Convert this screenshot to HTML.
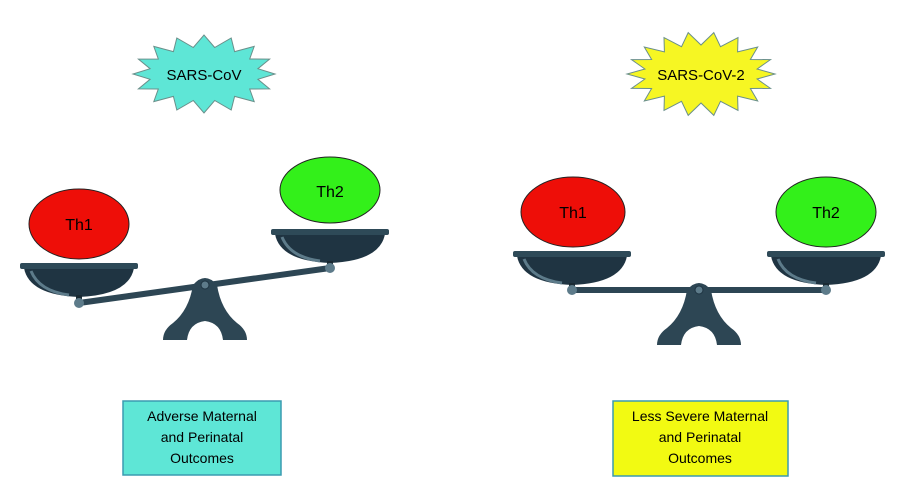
<!DOCTYPE html>
<html><head><style>body{margin:0;background:#fff}svg{display:block}</style></head><body>
<svg id="s" width="915" height="494" viewBox="0 0 915 494" xmlns="http://www.w3.org/2000/svg" font-family="Liberation Sans, sans-serif">
<defs>
<g id="pan">
<path d="M-55,3 Q-50,30 0,32 Q50,30 55,3 Z" fill="#1f3442"/>
<path d="M-48,6 Q-40,26 -10,30" stroke="#5d7b8a" stroke-width="3" fill="none"/>
<rect x="-59" y="-2" width="118" height="6" rx="2" fill="#2e4a58"/>
<rect x="-3" y="30" width="6" height="8" fill="#1a2a33"/>
</g>
<g id="ful">
<path d="M-12,0 Q0,-14 12,0 Q16,25 32,38 Q42,45 42,55 L18,55 Q16,38 0,36 Q-16,38 -18,55 L-42,55 Q-42,45 -32,38 Q-16,25 -12,0Z" fill="#2d4654"/>
</g>
</defs>
<g id="stars"></g>
<!-- left scale -->
<line x1="79" y1="303" x2="330" y2="268" stroke="#2d4654" stroke-width="6"/>
<use href="#ful" x="205" y="285"/>
<circle cx="205" cy="285" r="4" fill="#5d7b8a" stroke="#1f3442"/>
<use href="#pan" x="79" y="265"/>
<use href="#pan" x="330" y="231"/>
<circle cx="79" cy="303" r="5" fill="#5d7b8a"/>
<circle cx="330" cy="268" r="5" fill="#5d7b8a"/>
<ellipse cx="79" cy="224" rx="50" ry="35" fill="#ee0e08" stroke="#222"/>
<ellipse cx="330" cy="190" rx="50" ry="33" fill="#33f01a" stroke="#222"/>
<text x="79" y="230" font-size="16" text-anchor="middle">Th1</text>
<text x="330" y="197" font-size="16" text-anchor="middle">Th2</text>
<!-- right scale -->
<line x1="572" y1="290" x2="826" y2="290" stroke="#2d4654" stroke-width="6"/>
<use href="#ful" x="699" y="290"/>
<circle cx="699" cy="290" r="4" fill="#5d7b8a" stroke="#1f3442"/>
<use href="#pan" x="572" y="253"/>
<use href="#pan" x="826" y="253"/>
<circle cx="572" cy="290" r="5" fill="#5d7b8a"/>
<circle cx="826" cy="290" r="5" fill="#5d7b8a"/>
<ellipse cx="573" cy="212" rx="52" ry="35" fill="#ee0e08" stroke="#222"/>
<ellipse cx="826" cy="212" rx="50" ry="35" fill="#33f01a" stroke="#222"/>
<text x="573" y="218" font-size="16" text-anchor="middle">Th1</text>
<text x="826" y="218" font-size="16" text-anchor="middle">Th2</text>
<!-- boxes -->
<rect x="123" y="401" width="158" height="74" fill="#5ee6d6" stroke="#3a9bb0" stroke-width="1.5"/>
<text font-size="14" text-anchor="middle"><tspan x="202" y="421">Adverse Maternal</tspan><tspan x="202" y="442">and Perinatal</tspan><tspan x="202" y="463">Outcomes</tspan></text>
<rect x="613" y="401" width="175" height="75" fill="#f2fa12" stroke="#3a9bb0" stroke-width="1.5"/>
<text font-size="14" text-anchor="middle"><tspan x="700" y="421">Less Severe Maternal</tspan><tspan x="700" y="442">and Perinatal</tspan><tspan x="700" y="463">Outcomes</tspan></text>
<text x="204" y="80" font-size="15" text-anchor="middle" id="t1">SARS-CoV</text>
<text x="701" y="80" font-size="15" text-anchor="middle" id="t2">SARS-CoV-2</text>
</svg>
<script>
function star(cx,cy,ro,ryo,ri,ryi,n,fill){var p=[];for(var i=0;i<2*n;i++){var a=Math.PI*i/n;var o=i%2==0;p.push((cx+(o?ro:ri)*Math.cos(a)).toFixed(1)+","+(cy+(o?ryo:ryi)*Math.sin(a)).toFixed(1));}
var e=document.createElementNS("http://www.w3.org/2000/svg","polygon");e.setAttribute("points",p.join(" "));e.setAttribute("fill",fill);e.setAttribute("stroke","#6a8f8a");document.getElementById("stars").appendChild(e);}
star(204,74,71,39,55,27,16,"#5ee6d6");
star(701,74,74,42,57,29,18,"#f6f623");
</script>
</body></html>
